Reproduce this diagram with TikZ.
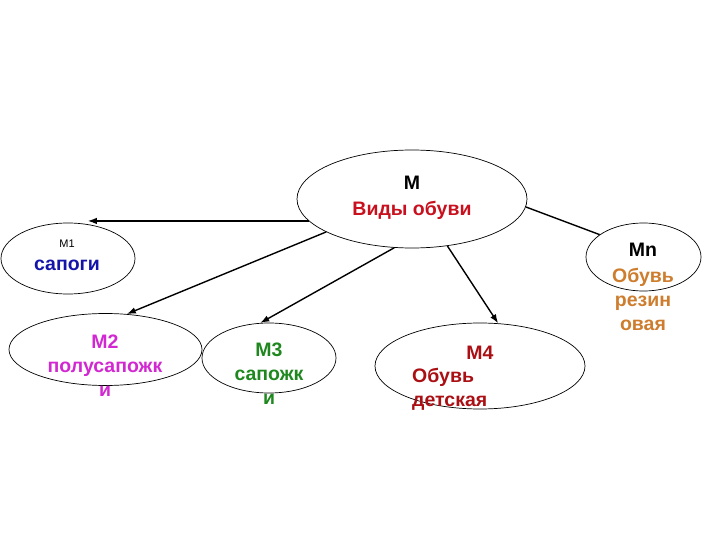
\documentclass[tikz,border=0pt]{standalone}
\usepackage{fontspec}
\setmainfont{Liberation Sans}
\usetikzlibrary{shapes.geometric, arrows.meta}
\definecolor{vidred}{RGB}{200,16,30}
\definecolor{botblue}{RGB}{20,20,170}
\definecolor{polpink}{RGB}{210,40,210}
\definecolor{sapgreen}{RGB}{30,135,30}
\definecolor{detred}{RGB}{170,15,20}
\definecolor{rezorange}{RGB}{205,125,45}

\begin{document}
\begin{tikzpicture}[x=1pt, y=-1pt,
	oval/.style={draw, ellipse, line width=0.7pt, inner sep=0pt},
	lbl/.style={font=\fontsize{19.5}{24}\selectfont\bfseries, align=center, inner sep=0pt},
	arrow/.style={line width=1.4pt, -{Latex[length=9pt, width=6.5pt]}}]
		\useasboundingbox (0,0) rectangle (720,540);
		% Ellipses
		\node[oval, minimum width=230pt, minimum height=98pt] (M) at (412,199) {};
		\node[oval, minimum width=134pt, minimum height=71pt] (M1) at (68,258.5) {};
		\node[oval, minimum width=193pt, minimum height=72pt] (M2) at (105.5,349.5) {};
		\node[oval, minimum width=134pt, minimum height=70pt] (M3) at (269,358) {};
		\node[oval, minimum width=210pt, minimum height=86pt] (M4) at (480,366) {};
		\node[oval, minimum width=115pt, minimum height=68pt] (Mn) at (643.5,257) {};
		% Texts
		\node[lbl] (M title) at (412,183) {М};
		\node[lbl, text=vidred] (M name) at (412,210) {Виды обуви};
		\node[lbl, font=\fontsize{11}{13}\selectfont] (M1 title) at (67,244) {М1};
		\node[lbl, text=botblue] (M1 name) at (67,265) {сапоги};
		\node[lbl, text=polpink] (M2 name) at (105,366) {М2\\полусапожк\\и};
		\node[lbl, text=sapgreen] (M3 name) at (269,374) {М3\\сапожк\\и};
		\node[lbl, text=detred] (M4 title) at (480,353) {М4};
		\node[lbl, text=detred, align=left, anchor=west] (M4 name) at (412,389) {Обувь\\детская};
		\node[lbl] (Mn title) at (643,250) {Мn};
		\node[lbl, text=rezorange] (Mn name) at (643,299) {Обувь\\резин\\овая};
		% Arrows
		\draw[arrow] (M.192) -- (M1.60 |- M.192);
		\draw[arrow] (M.201) -- (M2.59);
		\draw[arrow] (M.250) -- (M3.104);
		\draw[arrow] (M.307) -- (M4.67);
		\draw[line width=1.4pt] (M.356) -- (Mn.153);
	\end{tikzpicture}
\end{document}
